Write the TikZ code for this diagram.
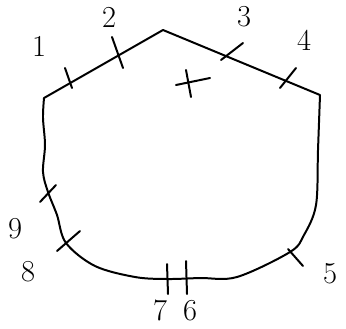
\documentclass[tikz,border=0pt]{standalone}
\usepackage{tikz}
\usetikzlibrary{arrows.meta}

\begin{document}
\begin{tikzpicture}[x=0.03cm, y=-0.03cm, line cap=round, line join=round,
    sketch/.style={line width=1.7pt},
    tick/.style={line width=1.7pt},
    lbl/.style={inner sep=0pt, font=\fontsize{26}{26}\selectfont}]
  \useasboundingbox (0,0) rectangle (346,328);
  % outline
  \draw[sketch] (44,98) -- (163,30) -- (320,95)
    -- plot[smooth, tension=0.55] coordinates {(320,95) (318,150) (316,205) (304,235) (290,252)
       (237,277) (200,278) (167,279) (135,277) (95,266) (66,243) (57,215) (48,192)
       (43,172) (45,145) (43,118) (44,98)};
  % marks on the outline
  \draw[tick] (65,68) -- (72,88);
  \draw[tick] (112,37) -- (123,68);
  \draw[tick] (221,60) -- (243,43);
  \draw[tick] (280,88) -- (296,68);
  \draw[tick] (288,249) -- (303,266);
  \draw[tick] (186,261) -- (187,294);
  \draw[tick] (167,264) -- (168,294);
  \draw[tick] (57,251) -- (80,231);
  \draw[tick] (40,202) -- (56,185);
  % centre
  \draw[tick] (176,85) -- (210,78);
  \draw[tick] (186,70) -- (191,97);
  % labels
  \node[lbl] (n1) at (39,46) {1};
  \node[lbl] (n2) at (109,17) {2};
  \node[lbl] (n3) at (244,17) {3};
  \node[lbl] (n4) at (304,40) {4};
  \node[lbl] (n5) at (330,274) {5};
  \node[lbl] (n6) at (190,311) {6};
  \node[lbl] (n7) at (160,310) {7};
  \node[lbl] (n8) at (28,272) {8};
  \node[lbl] (n9) at (15,229) {9};
\end{tikzpicture}
\end{document}
